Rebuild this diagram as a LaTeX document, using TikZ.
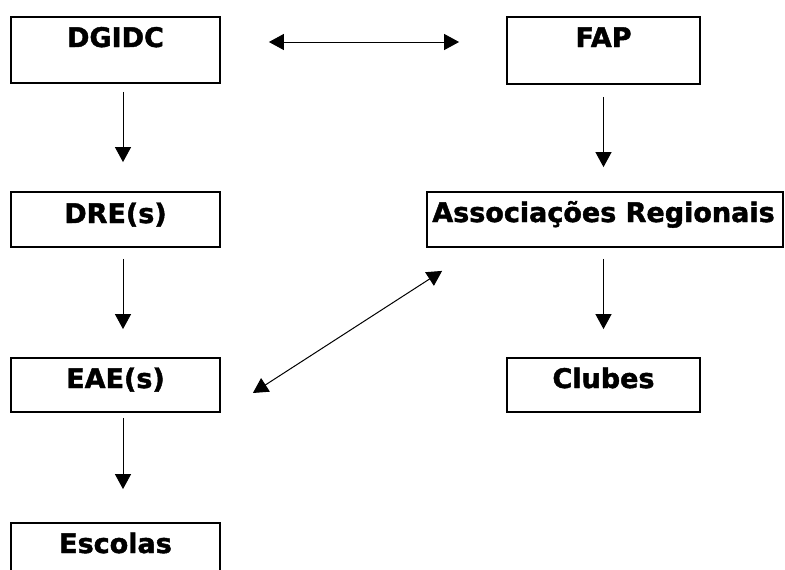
\documentclass[tikz,border=0pt]{standalone}
\usepackage{fontspec}
\setmainfont{DejaVu Sans}[BoldFont={DejaVu Sans Bold},BoldFeatures={FakeBold=1.6}]
\usetikzlibrary{arrows.meta}
\begin{document}
\begin{tikzpicture}[x=1pt,y=-1pt,
  box/.style={draw,line width=1.8pt,inner sep=0pt,minimum width=#1},
  box/.default=209pt,
  lbl/.style={anchor=base,inner sep=0pt,font=\fontsize{27}{32}\selectfont\bfseries},
  arr/.style={line width=1pt,-{Triangle[width=16pt,length=15pt]}},
  darr/.style={line width=1pt,{Triangle[width=16pt,length=15pt]}-{Triangle[width=16pt,length=15pt]}}]
\useasboundingbox (0,0) rectangle (785,570);
% boxes
\node[box,minimum height=66pt] (dgidc) at (115.5,50) {};
\node[box=193pt,minimum height=67pt] (fap) at (603.5,50.5) {};
\node[box,minimum height=55pt] (dre) at (115.5,219.5) {};
\node[box=356pt,minimum height=55pt] (ar) at (605,219.5) {};
\node[box,minimum height=54pt] (eae) at (115.5,385) {};
\node[box=193pt,minimum height=54pt] (clubes) at (603.5,385) {};
\node[box,minimum height=60pt] (escolas) at (115.5,553) {};
% labels
\node[lbl] (tdgidc) at (115.5,47) {DGIDC};
\node[lbl] (tfap) at (603.5,47) {FAP};
\node[lbl] (tdre) at (115.5,223) {DRE(s)};
\node[lbl] (tar) at (603.5,222) {Associações Regionais};
\node[lbl] (teae) at (115.5,388) {EAE(s)};
\node[lbl] (tclubes) at (603.5,388) {Clubes};
\node[lbl] (tescolas) at (115.5,553) {Escolas};
% connectors
\draw[darr] ([xshift=48pt,yshift=8pt]dgidc.east) -- ([xshift=-47pt,yshift=8.5pt]fap.west);
\draw[arr] ([xshift=7.5pt,yshift=-8pt]dgidc.south) -- ([xshift=7.5pt,yshift=29pt]dre.north);
\draw[arr] ([xshift=7.5pt,yshift=-11pt]dre.south) -- ([xshift=7.5pt,yshift=28pt]eae.north);
\draw[arr] ([xshift=7.5pt,yshift=-5pt]eae.south) -- ([xshift=7.5pt,yshift=33pt]escolas.north);
\draw[arr] ([yshift=-12pt]fap.south) -- ([xshift=-1.5pt,yshift=24pt]ar.north);
\draw[arr] ([xshift=-1.5pt,yshift=-11pt]ar.south) -- ([yshift=28pt]clubes.north);
\draw[darr] ([xshift=32pt,yshift=-8pt]eae.east) -- ([xshift=16pt,yshift=-23pt]ar.south west);
\end{tikzpicture}
\end{document}
